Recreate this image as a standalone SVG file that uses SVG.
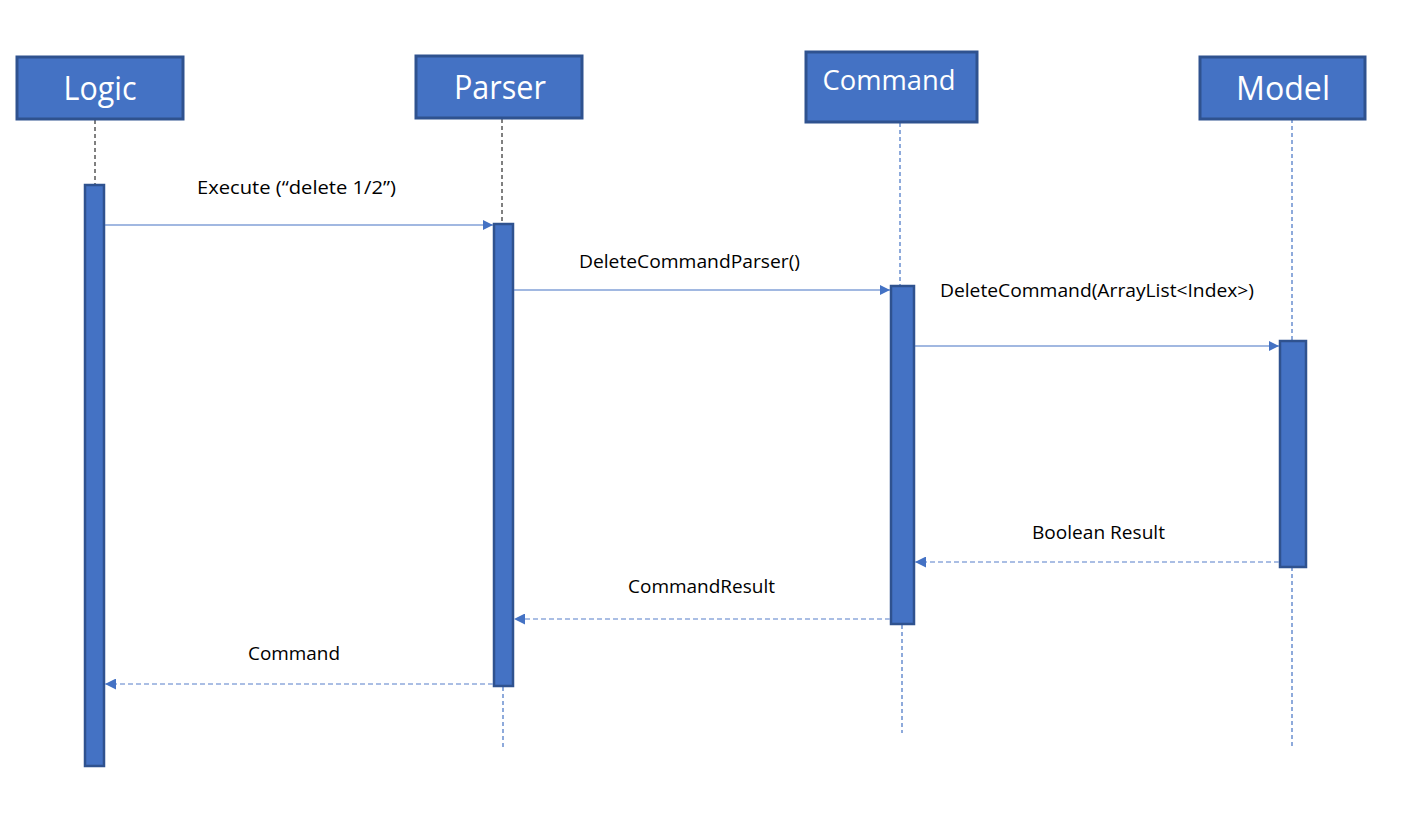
<svg xmlns="http://www.w3.org/2000/svg" width="1408" height="833" viewBox="0 0 1408 833">
<style>
.box{fill:#4472C4;stroke:#2F528F;stroke-width:3}
.act{fill:#4472C4;stroke:#2F528F;stroke-width:2.5}
.title{font-family:"Open Sans","Liberation Sans",sans-serif;fill:#ffffff;text-anchor:middle}
.lbl{font-family:"Open Sans","Liberation Sans",sans-serif;font-size:18px;fill:#000000}
.lifeK{stroke:#000000;stroke-width:1;stroke-dasharray:4,3;fill:none}
.lifeB{stroke:#4472C4;stroke-width:1.2;stroke-dasharray:4,3;fill:none}
.msg{stroke:#4472C4;stroke-width:1.2;fill:none}
.ret{stroke:#8EA9DB;stroke-width:1.6;stroke-dasharray:5,3;fill:none}
</style>
<defs>
<marker id="ah" viewBox="0 0 10 10" refX="10" refY="5" markerWidth="10" markerHeight="10" markerUnits="userSpaceOnUse" orient="auto">
<path d="M0,0 L10,5 L0,10 Z" fill="#4472C4"/>
</marker>
<marker id="ahr" viewBox="0 0 10 10" refX="10" refY="5" markerWidth="11" markerHeight="11" markerUnits="userSpaceOnUse" orient="auto">
<path d="M0,0 L10,5 L0,10 Z" fill="#4472C4"/>
</marker>
</defs>
<rect width="1408" height="833" fill="#ffffff"/>
<g id="lifelines">
<line class="lifeK" x1="95" y1="120" x2="95" y2="184"/>
<line class="lifeK" x1="502" y1="119" x2="502" y2="223"/>
<line class="lifeB" x1="503" y1="687" x2="503" y2="748"/>
<line class="lifeB" x1="900" y1="123" x2="900" y2="285"/>
<line class="lifeB" x1="902" y1="625" x2="902" y2="733"/>
<line class="lifeB" x1="1292" y1="119" x2="1292" y2="340"/>
<line class="lifeB" x1="1292" y1="567" x2="1292" y2="748"/>
</g>
<g id="logic">
<rect class="box" x="17" y="57" width="166" height="62"/>
<text class="title" x="100" y="100" font-size="32" textLength="73" lengthAdjust="spacingAndGlyphs">Logic</text>
<rect class="act" x="85" y="185" width="19" height="581"/>
</g>
<g id="parser">
<rect class="box" x="416" y="56" width="166" height="62"/>
<text class="title" x="500" y="99" font-size="32" textLength="92" lengthAdjust="spacingAndGlyphs">Parser</text>
<rect class="act" x="494" y="224" width="19" height="462"/>
</g>
<g id="command">
<rect class="box" x="806" y="52" width="171" height="70"/>
<text class="title" x="889" y="90" font-size="28" textLength="133" lengthAdjust="spacingAndGlyphs">Command</text>
<rect class="act" x="891" y="286" width="23" height="338"/>
</g>
<g id="model">
<rect class="box" x="1200" y="57" width="165" height="62"/>
<text class="title" x="1283" y="100" font-size="32" textLength="94" lengthAdjust="spacingAndGlyphs">Model</text>
<rect class="act" x="1280" y="341" width="26" height="226"/>
</g>
<g id="connectors">
<line class="msg" x1="105" y1="225" x2="493" y2="225" marker-end="url(#ah)"/>
<line class="msg" x1="514" y1="290" x2="890" y2="290" marker-end="url(#ah)"/>
<line class="msg" x1="915" y1="346" x2="1279" y2="346" marker-end="url(#ah)"/>
<line class="ret" x1="1279" y1="562" x2="915" y2="562" marker-end="url(#ahr)"/>
<line class="ret" x1="890" y1="619" x2="514" y2="619" marker-end="url(#ahr)"/>
<line class="ret" x1="493" y1="684" x2="105" y2="684" marker-end="url(#ahr)"/>
</g>
<g id="labels">
<text class="lbl" x="197" y="194" textLength="199" lengthAdjust="spacingAndGlyphs">Execute (“delete 1/2”)</text>
<text class="lbl" x="579" y="268" textLength="221" lengthAdjust="spacingAndGlyphs">DeleteCommandParser()</text>
<text class="lbl" x="940" y="297" textLength="314" lengthAdjust="spacingAndGlyphs">DeleteCommand(ArrayList&lt;Index&gt;)</text>
<text class="lbl" x="1032" y="539" textLength="133" lengthAdjust="spacingAndGlyphs">Boolean Result</text>
<text class="lbl" x="628" y="593" textLength="147" lengthAdjust="spacingAndGlyphs">CommandResult</text>
<text class="lbl" x="248" y="660" textLength="92" lengthAdjust="spacingAndGlyphs">Command</text>
</g>
</svg>
